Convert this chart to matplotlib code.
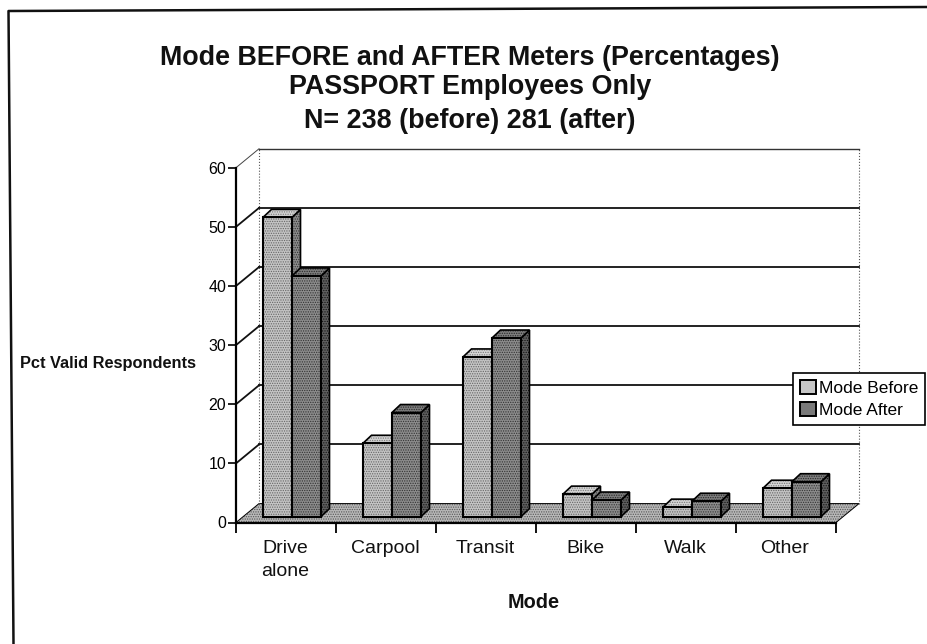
import matplotlib
matplotlib.use('Agg')
import matplotlib.pyplot as plt
from matplotlib.patches import Polygon, Rectangle

plt.rcParams['font.family'] = ['Liberation Sans', 'DejaVu Sans']
plt.rcParams['hatch.linewidth'] = 0.6

# Data
modes = ['Drive\nalone', 'Carpool', 'Transit', 'Bike', 'Walk', 'Other']
mode_before = [50.6, 12.4, 27.0, 3.8, 1.6, 4.8]
mode_after = [40.7, 17.6, 30.2, 2.8, 2.6, 5.9]
y_ticks = [0, 10, 20, 30, 40, 50, 60]
title_lines = ['Mode BEFORE and AFTER Meters (Percentages)',
               'PASSPORT Employees Only',
               'N= 238 (before) 281 (after)']

W, H = 928, 644
fig = plt.figure(figsize=(W / 100, H / 100), dpi=100, facecolor='white')

# Page frame, slightly skewed like the scan (only top and left show)
fr = fig.add_axes([0, 0, 1, 1])
fr.set_xlim(0, W); fr.set_ylim(H, 0); fr.axis('off')
fr.plot([928, 8.5, 13.5], [7, 11, 644], color='#111111', lw=1.8)

# Axes = front plane of the 3D box
x0, x1, y0, y60 = 236, 836, 522.5, 167.7
ax = fig.add_axes([x0 / W, 1 - y0 / H, (x1 - x0) / W, (y0 - y60) / H])
ax.set_xlim(0, 6); ax.set_ylim(0, 60)
ax.patch.set_alpha(0)
for s in ['top', 'right']:
    ax.spines[s].set_visible(False)
ax.spines['left'].set_linewidth(1.6)
ax.spines['bottom'].set_linewidth(1.6)

# Depth of the box and of a bar, in data units
dx, dy = 0.23, 3.2
bx, by = 0.085, 1.35
bar_w = 0.29
bar_start = 0.27
bar_base = 1.0


def shaded(pts, fc, hc, edge=1.2, z=3):
    # halftone fill, then the outline on top
    ax.add_patch(Polygon(pts, fc=fc, ec=hc, hatch='.......', lw=0, clip_on=False, zorder=z))
    if edge:
        ax.add_patch(Polygon(pts, fill=False, ec='black', lw=edge, clip_on=False, zorder=z))


# Floor
shaded([(0, 0), (dx, dy), (6 + dx, dy), (6, 0)], '#b8b8b8', '#555555', edge=0.7, z=1)

# Back wall + left wall
ax.plot([dx, dx], [dy, 60 + dy], color='#555555', lw=0.8, ls=':', clip_on=False, zorder=1)
ax.plot([6 + dx, 6 + dx], [dy, 60 + dy], color='#555555', lw=0.8, ls=':', clip_on=False, zorder=1)
ax.plot([dx, 6 + dx], [60 + dy, 60 + dy], color='#333333', lw=1.0, clip_on=False, zorder=1)
ax.plot([0, dx], [60, 60 + dy], color='#444444', lw=0.7, clip_on=False, zorder=1)
for v in y_ticks[1:-1]:
    ax.plot([dx, 6 + dx], [v + dy, v + dy], color='#111111', lw=1.3, clip_on=False, zorder=1)
    ax.plot([0, dx], [v, v + dy], color='#111111', lw=1.3, clip_on=False, zorder=1)


def bar3d(left, h, front, top, side):
    right = left + bar_w
    b, t = bar_base, bar_base + h
    shaded([(right, b), (right + bx, b + by), (right + bx, t + by), (right, t)], *side)
    shaded([(left, t), (left + bx, t + by), (right + bx, t + by), (right, t)], *top)
    shaded([(left, b), (right, b), (right, t), (left, t)], *front, edge=1.5)


before_cols = dict(front=('#c4c4c4', '#666666'), top=('#d4d4d4', '#777777'), side=('#8a8a8a', '#333333'))
after_cols = dict(front=('#8c8c8c', '#333333'), top=('#7c7c7c', '#2a2a2a'), side=('#606060', '#111111'))
for i, (b4, af) in enumerate(zip(mode_before, mode_after)):
    bar3d(i + bar_start, b4, **before_cols)
    bar3d(i + bar_start + bar_w, af, **after_cols)

ax.set_xticks(range(7))
ax.set_xticklabels([''] * 7)
ax.tick_params(axis='x', length=7, width=1.4, color='#111111')
ax.set_yticks(y_ticks)
ax.tick_params(axis='y', length=6, width=1.3, labelsize=11.5, pad=1, color='#111111')

for i, m in enumerate(modes):
    ax.text(i + 0.49, -2.9, m, ha='center', va='top', fontsize=14, linespacing=1.48, color='#111111')

# Titles
for txt, yy in zip(title_lines, [58, 87, 121]):
    fr.text(470, yy, txt, ha='center', va='center', fontsize=19.4, fontweight='bold', color='#111111')
fr.text(108, 363, 'Pct Valid Respondents', ha='center', va='center', fontsize=11.8,
        fontweight='bold', color='#111111')
fr.text(534, 603, 'Mode', ha='center', va='center', fontsize=14.3, fontweight='bold', color='#111111')

# Legend
h1 = Rectangle((0, 0), 1, 1, fc='#c6c6c6', ec='black', lw=1.4)
h2 = Rectangle((0, 0), 1, 1, fc='#7a7a7a', ec='black', lw=1.4)
leg = fr.legend([h1, h2], ['Mode Before', 'Mode After'], loc='upper left',
                bbox_to_anchor=(793 / W, 1 - 373 / H), bbox_transform=fig.transFigure,
                fontsize=12.5, frameon=True, fancybox=False, framealpha=1, edgecolor='black',
                handlelength=0.9, handleheight=0.9, handletextpad=0.2, labelspacing=0.32,
                borderpad=0.4, borderaxespad=0)
leg.get_frame().set_linewidth(1.2)
leg.set_zorder(10)
fr.set_zorder(5)
fr.patch.set_alpha(0)

fig.savefig('out.png', dpi=100)
